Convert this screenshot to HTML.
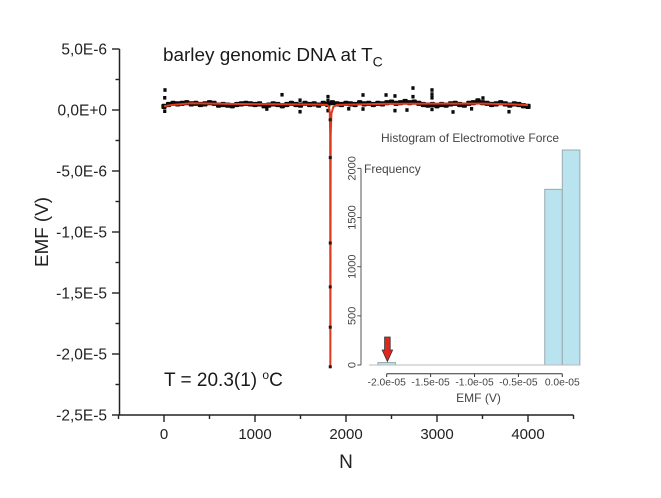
<!DOCTYPE html>
<html lang="en">
<head>
<meta charset="utf-8">
<title>barley genomic DNA at Tc</title>
<style>
html,body{margin:0;padding:0;background:#fff;width:661px;height:498px;overflow:hidden}
svg{display:block;filter:blur(0.3px)}
text{font-family:"Liberation Sans",sans-serif}
</style>
</head>
<body>
<svg id="chart" xmlns="http://www.w3.org/2000/svg" width="661" height="498" viewBox="0 0 661 498">
<rect x="0" y="0" width="661" height="498" fill="#fff"/>
<g id="main-marks"></g>
<g id="main-axes"></g>
<g id="inset"></g>
<text transform="translate(48,232) rotate(-90)" text-anchor="middle" font-size="18.8" fill="#222">EMF (V)</text>
<text x="346" y="468" text-anchor="middle" font-size="19" fill="#222">N</text>
<text x="163" y="61" font-size="18.9" fill="#1a1a1a">barley genomic DNA at T<tspan font-size="14" dy="5.5">C</tspan></text>
<text x="164" y="386" font-size="19" fill="#1a1a1a">T = 20.3(1) <tspan font-size="12" dy="-7">o</tspan><tspan dy="7">C</tspan></text>
<text x="381" y="142" font-size="12" fill="#444">Histogram of Electromotive Force</text>
<text x="364" y="173" font-size="12" fill="#444">Frequency</text>
<text x="478.5" y="402" text-anchor="middle" font-size="12" fill="#444">EMF (V)</text>
<g>
<path d="M384.6 337H390.2V350H392.6L387.4 361.5L382.2 350H384.6Z" fill="#e2261c" stroke="#333" stroke-width="0.8"/>
</g>
</svg>
<script>
// Main chart data (EMF in units of 1E-6 V)
const bandStep = 50;
const bandEMF = [0.30,0.45,0.55,0.50,0.55,0.60,0.50,0.55,0.45,0.50,0.60,0.55,0.40,0.45,0.40,0.35,0.45,0.50,0.55,0.50,0.45,0.50,0.35,0.40,0.50,0.45,0.35,0.45,0.55,0.45,0.40,0.55,0.45,0.50,0.40,0.55,0.45,0.60,0.50,0.45,0.55,0.50,0.45,0.60,0.50,0.55,0.45,0.55,0.50,0.60,0.65,0.55,0.60,0.70,0.60,0.65,0.55,0.45,0.40,0.45,0.35,0.45,0.40,0.50,0.55,0.45,0.40,0.55,0.60,0.75,0.60,0.55,0.45,0.50,0.60,0.50,0.40,0.50,0.45,0.35,0.30];
const outlierN = [11,8,8,1297,1495,1495,1802,1802,1802,2187,2187,2440,2538,2538,2670,2736,2736,2945,2945,2945,2945,3176,3505,3791,2030,1130,3380];
const outlierEMF = [1.64,1.0,-0.1,1.25,0.80,-0.14,1.09,0.76,-0.05,1.23,0.08,1.23,1.15,-0.05,0,1.8,1.09,1.64,1.3,1.0,0.05,-0.16,0.98,-0.14,0.1,0.08,0.1];
const fitN = [0,100,300,700,1200,1700,1790,1812,1822,1826,1828,1832,1840,1860,1900,2400,3000,3500,3800,4000];
const fitEMF = [0.32,0.42,0.55,0.50,0.47,0.45,0.42,0.30,-0.20,-2.00,-21.0,-2.00,-0.30,0.25,0.42,0.50,0.52,0.52,0.47,0.40];
const dropN = [1826,1827,1827,1827,1827,1827];
const dropEMF = [-0.8,-3.9,-10.9,-14.5,-17.8,-21.05];
const yMajorValues = [5,0,-5,-10,-15,-20,-25];
const yMajorLabels = ["5,0E-6","0,0E+0","-5,0E-6","-1,0E-5","-1,5E-5","-2,0E-5","-2,5E-5"];
const yMinorValues = [2.5,-2.5,-7.5,-12.5,-17.5,-22.5];
const xMajorValues = [0,1000,2000,3000,4000];
const xMajorLabels = ["0","1000","2000","3000","4000"];
const xMinorValues = [-500,500,1500,2500,3500,4500];

// Histogram data (EMF in units of 1E-6 V)
const histBinStart = [-21,-2,0];
const histBinWidth = 2;
const histCounts = [25,1787,2187];
const histYTicks = [0,500,1000,1500,2000];
const histYLabels = ["0","500","1000","1500","2000"];
const histXTicks = [-20,-15,-10,-5,0];
const histXLabels = ["-2.0e-05","-1.5e-05","-1.0e-05","-0.5e-05","0.0e-05"];
const histDomainStart = -22;
const histDomainEnd = 2;

const NS = "http://www.w3.org/2000/svg";
function mk(parent, tag, attrs, txt) {
  const el = document.createElementNS(NS, tag);
  for (const k in attrs) el.setAttribute(k, attrs[k]);
  if (txt !== undefined) el.textContent = txt;
  parent.appendChild(el);
  return el;
}
const xS = n => 164 + n * 0.091;
const yS = v => 110 - v * 12.2;
const hX = v => 562.3 + v * 8.78;
const hY = c => 365 - c * 0.0983;

const marks = document.getElementById("main-marks");
const axes = document.getElementById("main-axes");
const inset = document.getElementById("inset");

// Data marks
bandEMF.forEach((v, i) => {
  const el = mk(marks, "rect", {x: xS(i * bandStep) - 2.6, y: yS(v) - 2.6, width: 5.2, height: 5.2, rx: 1, fill: "#0a0a0a"});
  
  
});
outlierN.forEach((n, i) => {
  const el = mk(marks, "rect", {x: xS(n) - 1.6, y: yS(outlierEMF[i]) - 1.8, width: 3.2, height: 3.6, fill: "#0a0a0a"});
  
  
});
const fitLine = mk(marks, "polyline", {
  points: fitN.map((n, i) => xS(n) + "," + yS(fitEMF[i])).join(" "),
  fill: "none", stroke: "#e23a1c", "stroke-width": 2, "stroke-linejoin": "round"
});


dropN.forEach((n, i) => {
  const el = mk(marks, "rect", {x: xS(n) - 1.5, y: yS(dropEMF[i]) - 1.5, width: 3, height: 3, fill: "#2a1410"});
  
  
});

// Main axes
const yAxisLine = mk(axes, "line", {x1: 119.5, y1: yS(5), x2: 119.5, y2: yS(-25), stroke: "#222", "stroke-width": 1.5});


const xAxisLine = mk(axes, "line", {x1: xS(-500), y1: 415, x2: xS(4500), y2: 415, stroke: "#222", "stroke-width": 1.5});


yMajorValues.forEach((v, i) => {
  const t = mk(axes, "line", {x1: 112, y1: yS(v), x2: 119.5, y2: yS(v), stroke: "#222", "stroke-width": 1.4});
  
  
  const l = mk(axes, "text", {x: 107, y: yS(v) + 5.4, "text-anchor": "end", "font-size": 15.5, fill: "#222"}, yMajorLabels[i]);
  
  
});
yMinorValues.forEach(v => {
  const t = mk(axes, "line", {x1: 115.5, y1: yS(v), x2: 119.5, y2: yS(v), stroke: "#222", "stroke-width": 1.4});
  
  
});
xMajorValues.forEach((v, i) => {
  const t = mk(axes, "line", {x1: xS(v), y1: 415, x2: xS(v), y2: 422, stroke: "#222", "stroke-width": 1.4});
  
  
  const l = mk(axes, "text", {x: xS(v), y: 439, "text-anchor": "middle", "font-size": 15, fill: "#222"}, xMajorLabels[i]);
  
  
});
xMinorValues.forEach(v => {
  const t = mk(axes, "line", {x1: xS(v), y1: 415, x2: xS(v), y2: 419, stroke: "#222", "stroke-width": 1.4});
  
  
});

// Histogram inset
histBinStart.forEach((s, i) => {
  const b = mk(inset, "rect", {x: hX(s), y: hY(histCounts[i]), width: hX(s + histBinWidth) - hX(s), height: 365 - hY(histCounts[i]), fill: "#b9e3ee", stroke: "#9aa9b0", "stroke-width": 1});
  
  
});
const hBase = mk(inset, "line", {x1: hX(histDomainStart), y1: 365, x2: hX(histDomainEnd), y2: 365, stroke: "#bbb", "stroke-width": 1});


const hYAxis = mk(inset, "line", {x1: 361, y1: hY(histYTicks[0]), x2: 361, y2: hY(histYTicks[histYTicks.length - 1]), stroke: "#555", "stroke-width": 1});


histYTicks.forEach((c, i) => {
  const t = mk(inset, "line", {x1: 357.3, y1: hY(c), x2: 361, y2: hY(c), stroke: "#555", "stroke-width": 1});
  
  
  const l = mk(inset, "text", {transform: "translate(355.5," + hY(c) + ") rotate(-90)", "text-anchor": "middle", "font-size": 11, fill: "#444"}, histYLabels[i]);
  
  
});
const hXAxis = mk(inset, "line", {x1: hX(histXTicks[0]), y1: 373.7, x2: hX(histXTicks[histXTicks.length - 1]), y2: 373.7, stroke: "#333", "stroke-width": 1});


histXTicks.forEach((v, i) => {
  const t = mk(inset, "line", {x1: hX(v), y1: 373.7, x2: hX(v), y2: 377, stroke: "#333", "stroke-width": 1});
  
  
  const l = mk(inset, "text", {x: hX(v), y: 385.5, "text-anchor": "middle", "font-size": 10.3, fill: "#444"}, histXLabels[i]);
  
  
});
</script>
</body>
</html>
